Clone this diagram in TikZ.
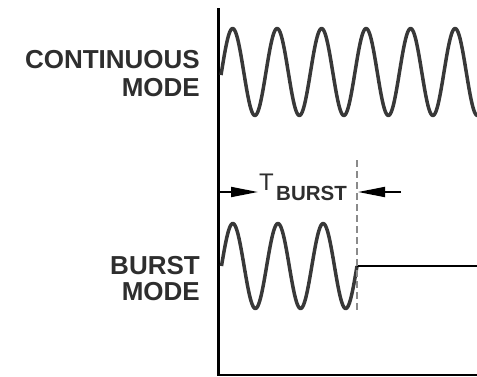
\documentclass[tikz,border=0pt]{standalone}
\usepackage{fontspec}
\setmainfont{Liberation Sans}
\usetikzlibrary{arrows.meta}
\definecolor{txt}{HTML}{2E2E2E}
\definecolor{wave}{HTML}{383838}
\definecolor{dash}{HTML}{8A8A8A}
\tikzset{
  lbl/.style={inner sep=0pt, text=txt, font=\fontsize{26}{28}\selectfont\bfseries},
  wavel/.style={draw=wave, line width=3.5pt, line join=round},
  axisl/.style={draw=black, line width=3pt},
  dimarrow/.style={draw=black, line width=1.8pt, -{Triangle[length=27pt,width=10pt]}},
}
\begin{document}
\begin{tikzpicture}[x=1pt,y=-1pt]
\useasboundingbox (0,0) rectangle (477,376);
% axis
\coordinate (axtop) at (218.5,8);
\coordinate (axbot) at (218.5,376);
\draw[axisl] (axtop) -- (axbot);
\coordinate (bl) at (218.5,375);
\coordinate (br) at (477,375);
\draw[draw=black, line width=1.5pt] (bl) -- (br);
% labels
\node[lbl, anchor=base east] (cont) at (200,68) {CONTINUOUS};
\node[lbl, anchor=base east] (mode1) at (200,96) {MODE};
\node[lbl, anchor=base east] (burst) at (200,274) {BURST};
\node[lbl, anchor=base east] (mode2) at (200,300) {MODE};
% continuous wave
\draw[wavel] plot[domain=221:478, samples=300] (\x, {72 - 43.5*sin(8.0899*(\x-221.5))});
% burst wave
\draw[wavel] plot[domain=221.5:357, samples=200] (\x, {266 - 42.5*sin(7.970*(\x-221.5))});
% flat line
\coordinate (fs) at (357,266);
\coordinate (fe) at (477,266);
\draw[draw=black, line width=2.8pt] (fs) -- (fe);
% dashed marker
\coordinate (dtop) at (357,160);
\coordinate (dbot) at (357,312);
\draw[draw=dash, line width=1.8pt, dash pattern=on 7pt off 4pt] (dtop) -- (dbot);
% T burst
\node[inner sep=0pt, text=txt, font=\fontsize{24}{25}\selectfont, anchor=base west] (T) at (259,190) {T};
\node[inner sep=0pt, text=txt, font=\fontsize{20.5}{22}\selectfont\bfseries, anchor=base west] (sub) at (276,200) {BURST};
\coordinate (la) at (220,192);
\coordinate (lt) at (258,192);
\draw[dimarrow] (la) -- (lt);
\coordinate (ra) at (401,192);
\coordinate (rt) at (358,192);
\draw[dimarrow] (ra) -- (rt);
\end{tikzpicture}
\end{document}
